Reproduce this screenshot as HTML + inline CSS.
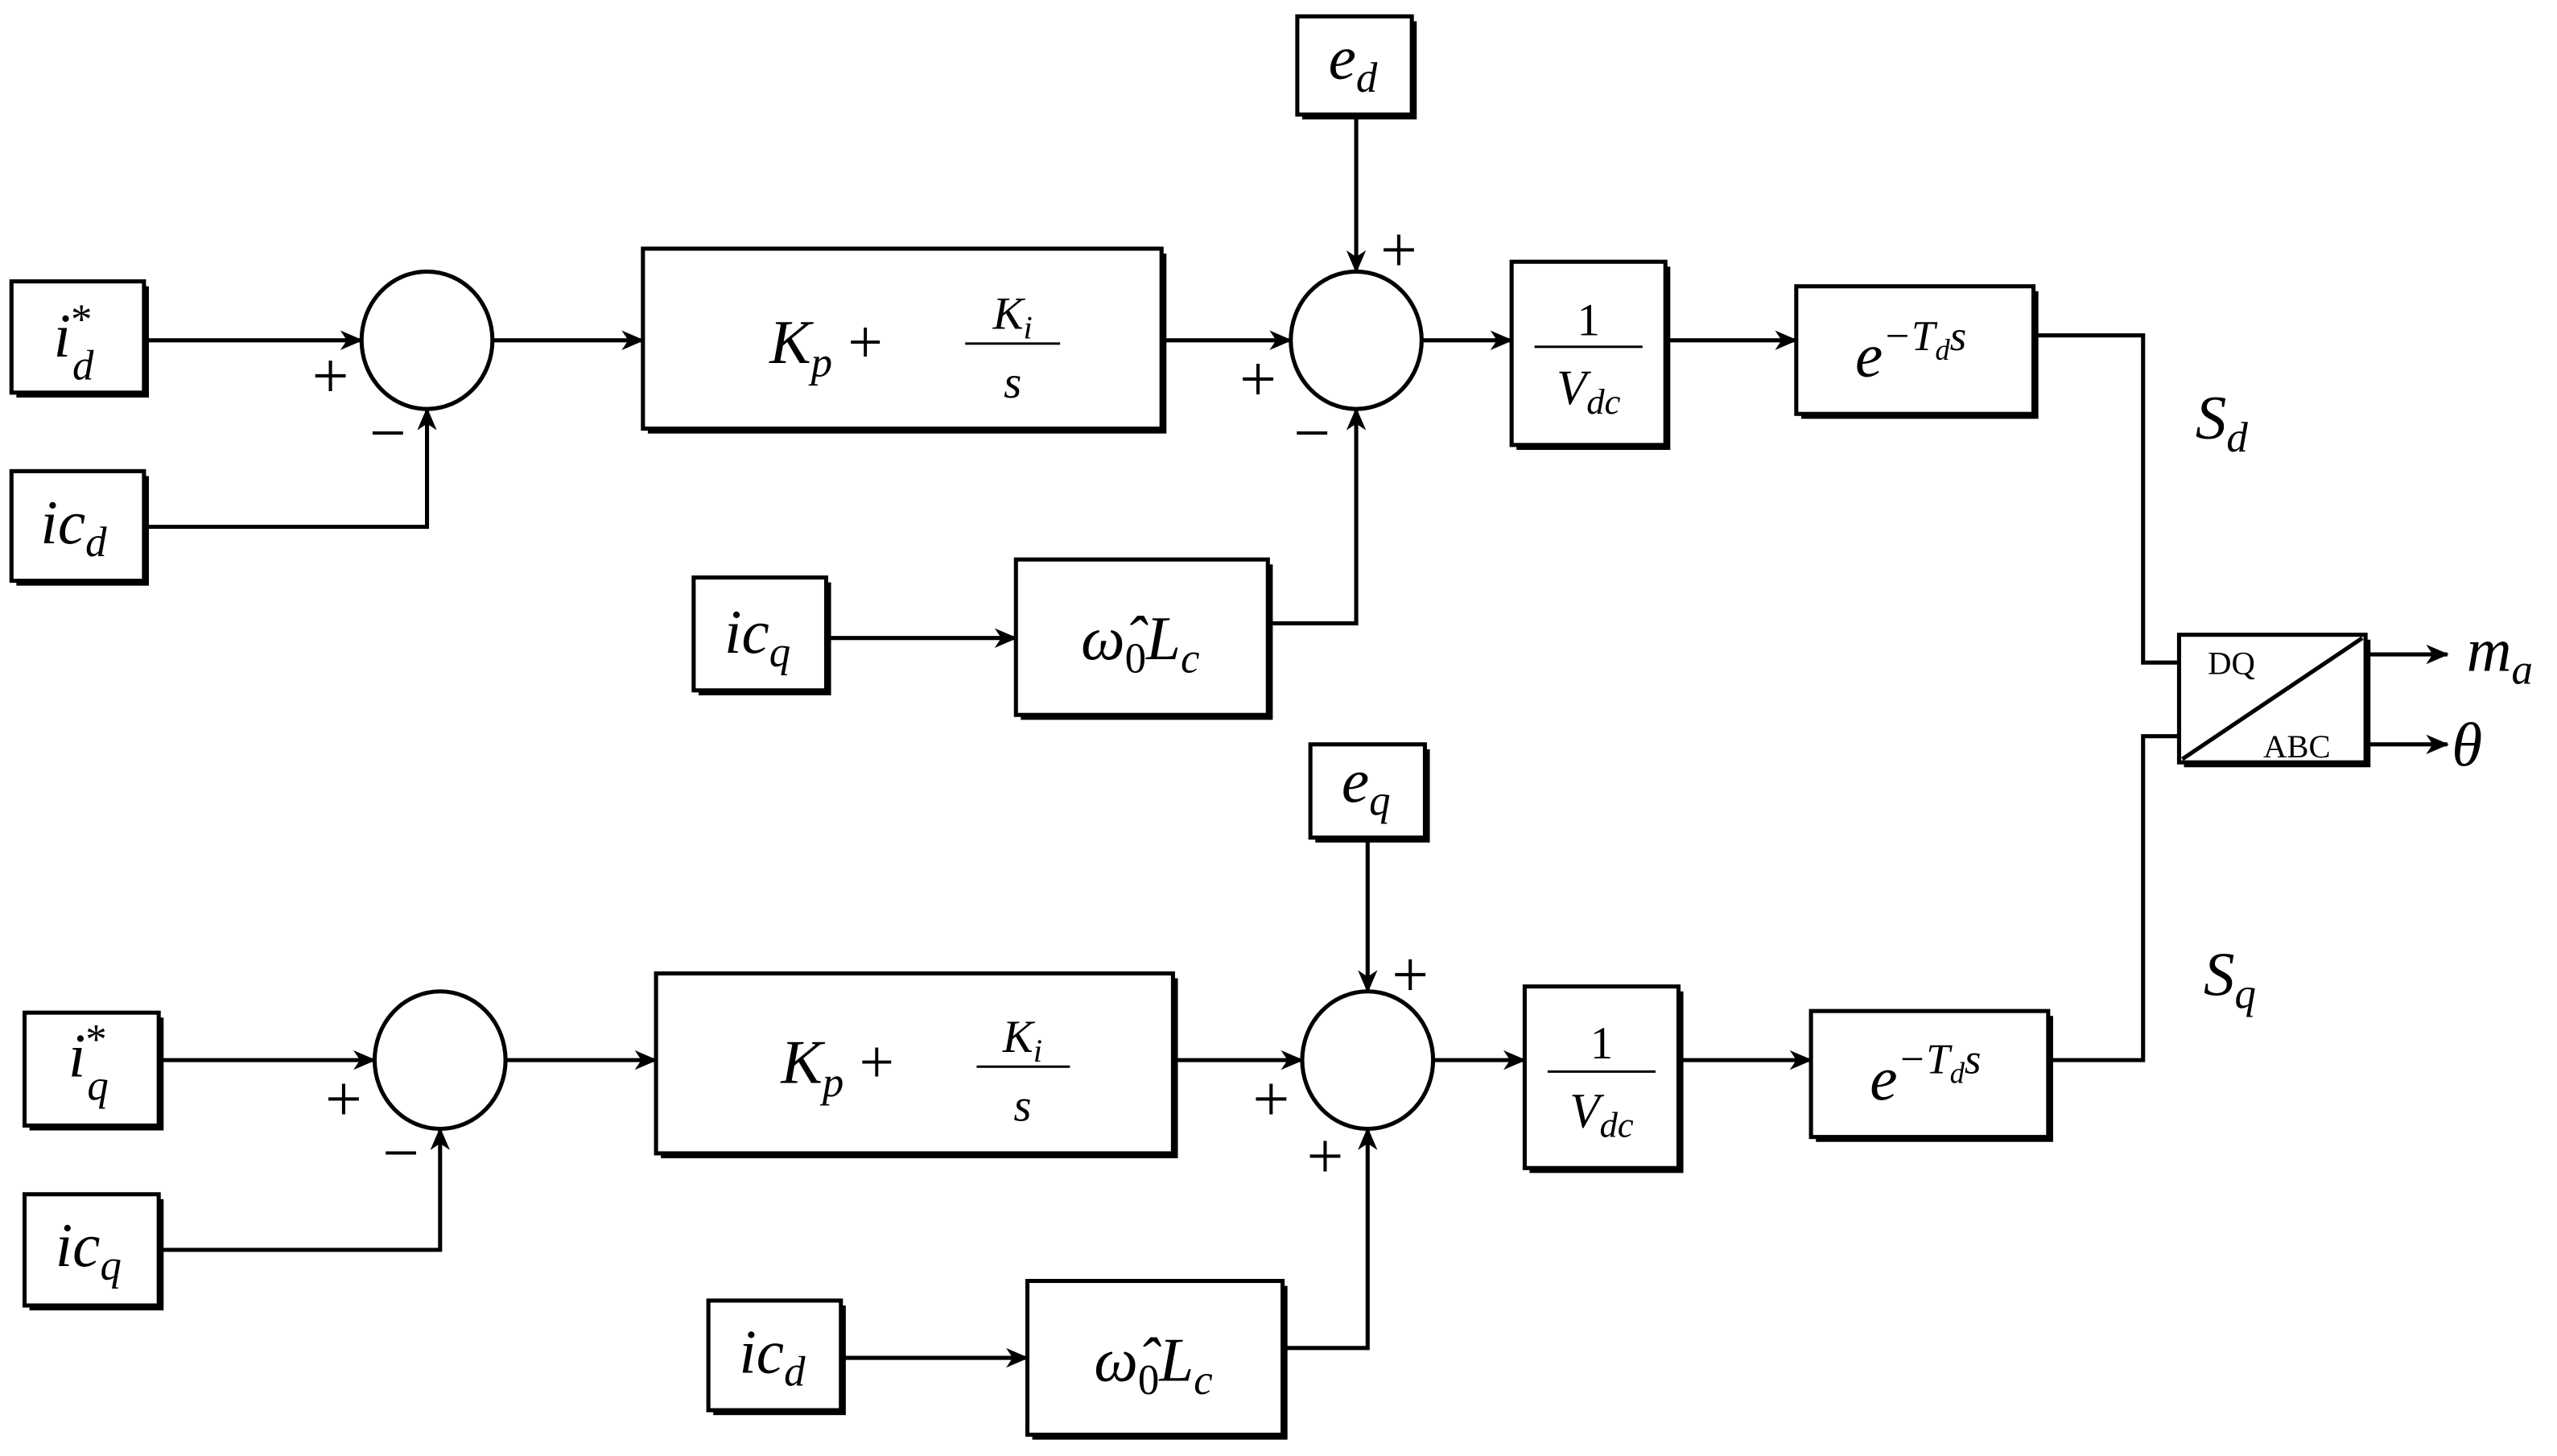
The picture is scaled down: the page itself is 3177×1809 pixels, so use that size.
<!DOCTYPE html>
<html><head><meta charset="utf-8"><style>
html,body{margin:0;padding:0;background:#fff}
svg{display:block}
text{font-family:"Liberation Serif",serif;fill:#000}
.i{font-style:italic}
</style></head><body>
<svg width="3177" height="1809" viewBox="0 0 1563 890" xmlns="http://www.w3.org/2000/svg">
<defs>
<marker id="a" markerWidth="14" markerHeight="12" refX="13" refY="6" orient="auto" markerUnits="userSpaceOnUse">
<path d="M0,0 L14,6 L0,12 L4,6 Z" fill="#000"/></marker>
</defs>
<g fill="none" stroke="#000" stroke-width="2.5">
<!-- shadows -->
<g fill="#000" stroke="none">
<rect x="10" y="175" width="81" height="68"/><rect x="10" y="291" width="81" height="67"/>
<rect x="396" y="155" width="317" height="110"/><rect x="796" y="13" width="70" height="60"/>
<rect x="927" y="163" width="94" height="112"/><rect x="1101" y="178" width="145" height="78"/>
<rect x="427" y="356" width="81" height="69"/><rect x="624" y="345" width="154" height="95"/>
<rect x="1335" y="391" width="114" height="78"/>
<rect x="804" y="458" width="70" height="57"/><rect x="404" y="598" width="316" height="110"/>
<rect x="935" y="606" width="94" height="111"/><rect x="1110" y="621" width="145" height="77"/>
<rect x="18" y="622" width="82" height="69"/><rect x="18" y="733" width="82" height="68"/>
<rect x="436" y="798" width="81" height="67"/><rect x="631" y="786" width="156" height="94"/>
</g>
<g fill="#fff">
<rect x="7" y="172" width="81" height="68"/><rect x="7" y="288" width="81" height="67"/>
<rect x="393" y="152" width="317" height="110"/><rect x="793" y="10" width="70" height="60"/>
<rect x="924" y="160" width="94" height="112"/><rect x="1098" y="175" width="145" height="78"/>
<rect x="424" y="353" width="81" height="69"/><rect x="621" y="342" width="154" height="95"/>
<rect x="1332" y="388" width="114" height="78"/>
<rect x="801" y="455" width="70" height="57"/><rect x="401" y="595" width="316" height="110"/>
<rect x="932" y="603" width="94" height="111"/><rect x="1107" y="618" width="145" height="77"/>
<rect x="15" y="619" width="82" height="69"/><rect x="15" y="730" width="82" height="68"/>
<rect x="433" y="795" width="81" height="67"/><rect x="628" y="783" width="156" height="94"/>
<ellipse cx="261" cy="208" rx="40" ry="42"/><ellipse cx="829" cy="208" rx="40" ry="42"/>
<ellipse cx="269" cy="648" rx="40" ry="42"/><ellipse cx="836" cy="648" rx="40" ry="42"/>
</g>
<line x1="1334" y1="464" x2="1444" y2="390"/>
<!-- connectors upper -->
<path d="M88,208 H221" marker-end="url(#a)"/>
<path d="M88,322 H261 V250" marker-end="url(#a)"/>
<path d="M301,208 H393" marker-end="url(#a)"/>
<path d="M710,208 H789" marker-end="url(#a)"/>
<path d="M829,70 V166" marker-end="url(#a)"/>
<path d="M775,381 H829 V250" marker-end="url(#a)"/>
<path d="M505,390 H621" marker-end="url(#a)"/>
<path d="M869,208 H924" marker-end="url(#a)"/>
<path d="M1018,208 H1098" marker-end="url(#a)"/>
<path d="M1243,205 H1310 V405 H1332"/>
<path d="M1446,400 H1496" marker-end="url(#a)"/>
<path d="M1446,455 H1496" marker-end="url(#a)"/>
<!-- lower -->
<path d="M97,648 H229" marker-end="url(#a)"/>
<path d="M97,764 H269 V690" marker-end="url(#a)"/>
<path d="M309,648 H401" marker-end="url(#a)"/>
<path d="M717,648 H796" marker-end="url(#a)"/>
<path d="M836,512 V606" marker-end="url(#a)"/>
<path d="M784,824 H836 V690" marker-end="url(#a)"/>
<path d="M514,830 H628" marker-end="url(#a)"/>
<path d="M876,648 H932" marker-end="url(#a)"/>
<path d="M1026,648 H1107" marker-end="url(#a)"/>
<path d="M1252,648 H1310 V450 H1332"/>
<!-- fraction bars -->
<line x1="938" y1="212" x2="1004" y2="212" stroke-width="1.5"/>
<line x1="946" y1="655" x2="1012" y2="655" stroke-width="1.5"/>
<line x1="590" y1="210" x2="648" y2="210" stroke-width="1.5"/>
<line x1="597" y1="652" x2="654" y2="652" stroke-width="1.5"/>
</g>
<g font-size="38" text-anchor="middle">
<text x="45" y="218" class="i">i<tspan font-size="26" dy="-14" font-style="normal">*</tspan><tspan font-size="26" dx="-12" dy="28">d</tspan></text>
<text x="45" y="332" class="i">ic<tspan font-size="26" dy="8">d</tspan></text>
<text x="54" y="658" class="i">i<tspan font-size="26" dy="-14" font-style="normal">*</tspan><tspan font-size="26" dx="-12" dy="28">q</tspan></text>
<text x="54" y="774" class="i">ic<tspan font-size="26" dy="8">q</tspan></text>
<text x="463" y="399" class="i">ic<tspan font-size="26" dy="8">q</tspan></text>
<text x="472" y="839" class="i">ic<tspan font-size="26" dy="8">d</tspan></text>
<text x="827" y="48" class="i">e<tspan font-size="26" dy="8">d</tspan></text>
<text x="835" y="490" class="i">e<tspan font-size="26" dy="8">q</tspan></text>
<text x="697" y="403" class="i">ω̂<tspan font-size="26" dy="8" font-style="normal">0</tspan><tspan dy="-8">L</tspan><tspan font-size="26" dy="8">c</tspan></text>
<text x="705" y="844" class="i">ω̂<tspan font-size="26" dy="8" font-style="normal">0</tspan><tspan dy="-8">L</tspan><tspan font-size="26" dy="8">c</tspan></text>
<text x="505" y="222" class="i">K<tspan font-size="26" dy="8">p</tspan><tspan dy="-8" font-style="normal"> +</tspan></text>
<text x="619" y="201" font-size="28" class="i">K<tspan font-size="20" dy="6">i</tspan></text>
<text x="619" y="243" font-size="28" class="i">s</text>
<text x="512" y="662" class="i">K<tspan font-size="26" dy="8">p</tspan><tspan dy="-8" font-style="normal"> +</tspan></text>
<text x="625" y="643" font-size="28" class="i">K<tspan font-size="20" dy="6">i</tspan></text>
<text x="625" y="685" font-size="28" class="i">s</text>
<text x="971" y="205" font-size="28">1</text>
<text x="971" y="247" font-size="30" class="i">V<tspan font-size="22" dy="6">dc</tspan></text>
<text x="979" y="647" font-size="28">1</text>
<text x="979" y="689" font-size="30" class="i">V<tspan font-size="22" dy="6">dc</tspan></text>
<text x="1168" y="230" class="i">e<tspan font-size="26" dy="-16">−T</tspan><tspan font-size="18" dy="6">d</tspan><tspan font-size="26" dy="-6">s</tspan></text>
<text x="1177" y="672" class="i">e<tspan font-size="26" dy="-16">−T</tspan><tspan font-size="18" dy="6">d</tspan><tspan font-size="26" dy="-6">s</tspan></text>
<text x="1358" y="268" class="i">S<tspan font-size="26" dy="8">d</tspan></text>
<text x="1363" y="608" class="i">S<tspan font-size="26" dy="8">q</tspan></text>
<text x="1528" y="410" class="i">m<tspan font-size="26" dy="8">a</tspan></text>
<text x="1508" y="468" class="i">θ</text>
<text x="1364" y="412" font-size="20">DQ</text>
<text x="1404" y="463" font-size="20">ABC</text>
<g font-size="40">
<text x="202" y="243">+</text><text x="237" y="278">−</text>
<text x="769" y="245">+</text><text x="802" y="278">−</text><text x="855" y="166">+</text>
<text x="210" y="685">+</text><text x="245" y="718">−</text>
<text x="777" y="685">+</text><text x="810" y="720">+</text><text x="862" y="609">+</text>
</g>
</g>
</svg>
</body></html>
